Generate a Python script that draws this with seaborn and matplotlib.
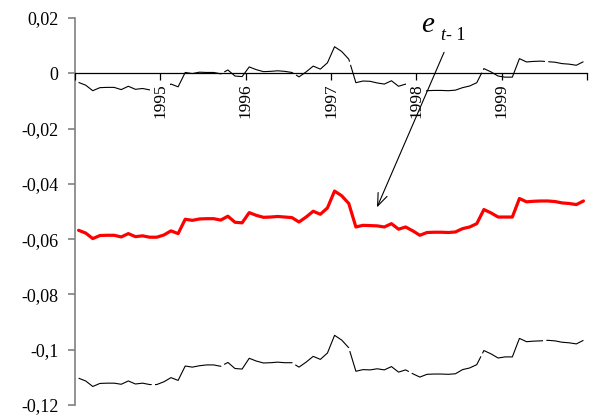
import numpy as np
import pandas as pd
import seaborn as sns
import matplotlib.pyplot as plt

# monthly series, Jan 1994 - Dec 1999
years = ['1995', '1996', '1997', '1998', '1999']

e_t1 = [-0.0568, -0.0578, -0.0598, -0.0587, -0.0586, -0.0586, -0.0592, -0.0580, -0.0591, -0.0588, -0.0593, -0.0593,
        -0.0585, -0.0570, -0.0580, -0.0528, -0.0532, -0.0527, -0.0526, -0.0526, -0.0531, -0.0517, -0.0539, -0.0541,
        -0.0504, -0.0514, -0.0521, -0.0520, -0.0518, -0.0520, -0.0522, -0.0538, -0.0520, -0.0499, -0.0510, -0.0487,
        -0.0426, -0.0443, -0.0471, -0.0556, -0.0550, -0.0551, -0.0552, -0.0556, -0.0544, -0.0564, -0.0556, -0.0570,
        -0.0586, -0.0576, -0.0575, -0.0575, -0.0576, -0.0574, -0.0562, -0.0556, -0.0544, -0.0493, -0.0505, -0.0520,
        -0.0520, -0.0520, -0.0453, -0.0465, -0.0463, -0.0462, -0.0462, -0.0464, -0.0469, -0.0471, -0.0475, -0.0462]

upper = [-0.0033, -0.0043, -0.0063, -0.0052, -0.0051, -0.0051, -0.0059, -0.0047, -0.0058, -0.0055, -0.0060, -0.0060,
         -0.0054, -0.0039, -0.0049, 0.0003, -0.0001, 0.0004, 0.0003, 0.0003, -0.0002, 0.0012, -0.0010, -0.0012,
         0.0023, 0.0013, 0.0006, 0.0007, 0.0009, 0.0007, 0.0003, -0.0013, 0.0005, 0.0026, 0.0015, 0.0038,
         0.0096, 0.0079, 0.0051, -0.0034, -0.0028, -0.0029, -0.0035, -0.0039, -0.0027, -0.0047, -0.0039, -0.0053,
         -0.0073, -0.0063, -0.0062, -0.0062, -0.0063, -0.0061, -0.0052, -0.0046, -0.0034, 0.0017, 0.0005, -0.0010,
         -0.0014, -0.0014, 0.0053, 0.0041, 0.0043, 0.0044, 0.0042, 0.0040, 0.0035, 0.0033, 0.0029, 0.0042]

lower = [-0.1103, -0.1113, -0.1133, -0.1122, -0.1121, -0.1121, -0.1125, -0.1113, -0.1124, -0.1121, -0.1126, -0.1126,
         -0.1116, -0.1101, -0.1111, -0.1059, -0.1063, -0.1058, -0.1055, -0.1055, -0.1060, -0.1046, -0.1068, -0.1070,
         -0.1031, -0.1041, -0.1048, -0.1047, -0.1045, -0.1047, -0.1047, -0.1063, -0.1045, -0.1024, -0.1035, -0.1012,
         -0.0948, -0.0965, -0.0993, -0.1078, -0.1072, -0.1073, -0.1069, -0.1073, -0.1061, -0.1081, -0.1073, -0.1087,
         -0.1099, -0.1089, -0.1088, -0.1088, -0.1089, -0.1087, -0.1072, -0.1066, -0.1054, -0.1003, -0.1015, -0.1030,
         -0.1026, -0.1026, -0.0959, -0.0971, -0.0969, -0.0968, -0.0966, -0.0968, -0.0973, -0.0975, -0.0979, -0.0966]

y_ticks = [0.02, 0, -0.02, -0.04, -0.06, -0.08, -0.1, -0.12]
y_labels = ['0,02', '0', '-0,02', '-0,04', '-0,06', '-0,08', '-0,1', '-0,12']

df = pd.DataFrame({'month': np.arange(len(e_t1)), 'e': e_t1, 'upper': upper, 'lower': lower})

sns.set_style('white')
plt.rcParams['font.family'] = ['Liberation Serif', 'DejaVu Serif']

fig = plt.figure(figsize=(5.92, 4.16), dpi=100)
ax = fig.add_axes([75 / 592, 11 / 416, 512 / 592, 387 / 416])

dash = (0, (70, 3))
sns.lineplot(data=df, x='month', y='upper', color='black', lw=0.8, linestyle=dash, ax=ax)
sns.lineplot(data=df, x='month', y='lower', color='black', lw=0.8, linestyle=dash, ax=ax)
sns.lineplot(data=df, x='month', y='e', color='#ff0000', lw=2.3, ax=ax)

ax.set_xlim(-0.5, len(e_t1) - 0.5)
ax.set_ylim(-0.12, 0.02)
ax.set_xlabel('')
ax.set_ylabel('')

ax.set_yticks(y_ticks)
ax.set_yticklabels(y_labels)
ax.set_xticks(np.arange(-0.5, len(e_t1), 12))
ax.set_xticklabels([''] + years + [''])

for s in ['top', 'right']:
    ax.spines[s].set_visible(False)
ax.spines['bottom'].set_position(('data', 0))
ax.spines['bottom'].set_color('black')
ax.spines['bottom'].set_linewidth(0.9)
ax.spines['left'].set_color('#808080')
ax.spines['left'].set_linewidth(1.2)

ax.tick_params(axis='y', left=True, direction='out', length=5, width=1.2, color='#808080',
               pad=7, labelsize=13, labelcolor='black')
ax.tick_params(axis='x', bottom=True, direction='out', length=5, width=0.9, color='black',
               pad=2, labelsize=12.5, labelcolor='black', labelrotation=90)
for lab in ax.get_xticklabels():
    lab.set_bbox(dict(facecolor='white', edgecolor='none', pad=1.5))
ax.set_axisbelow(False)

# arrow pointing at the red line
ax.annotate('', xy=(41.97, -0.0485), xytext=(51.4, 0.0076),
            arrowprops=dict(arrowstyle='->,head_length=0.9,head_width=0.35', color='black', lw=0.8,
                            shrinkA=0, shrinkB=0))
fig.text(421 / 592, 1 - 32 / 416, 'e', fontsize=21, style='italic', va='baseline', color='black')
fig.text(440 / 592, 1 - 40 / 416, 't', fontsize=13, style='italic', va='baseline', color='black')
fig.text(446 / 592, 1 - 40 / 416, '- 1', fontsize=13, va='baseline', color='black')

fig.savefig('out.png', dpi=100)
